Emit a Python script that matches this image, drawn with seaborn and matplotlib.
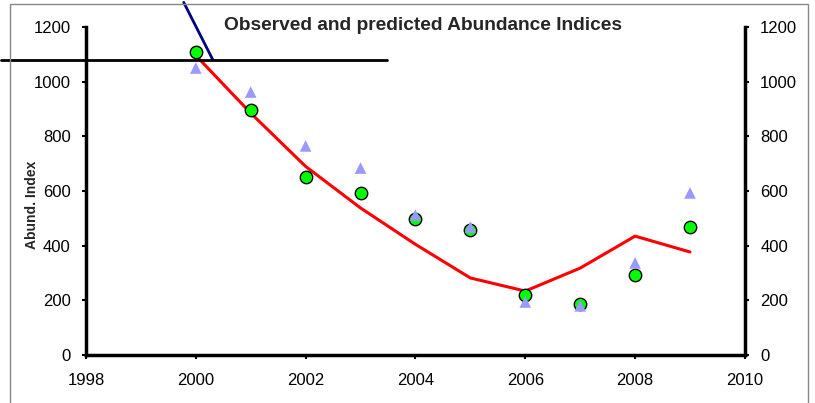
import matplotlib
matplotlib.use('Agg')
import matplotlib.pyplot as plt
import matplotlib.patches as patches
import seaborn as sns
import pandas as pd

# ── DATA ──────────────────────────────────────────────────────────────
years     = [2000, 2001, 2002, 2003, 2004, 2005, 2006, 2007, 2008, 2009]
observed  = [1108, 896, 651, 593, 497, 457, 220, 187, 293, 468]
survey2   = [1050, 962, 765, 684, 512, 468, 194, 180, 337, 593]
predicted = [1096, 885, 690, 538, 405, 282, 234, 318, 435, 377]

# stray lines left over in the original picture
navy_x = [1999.78, 2000.31]
navy_y = [1290, 1080]
black_x = [1996.45, 2003.48]
black_y = [1080, 1080]

df = pd.DataFrame({'year': years, 'obs': observed, 'tri': survey2, 'pred': predicted})

sns.set_style('ticks')
plt.rcParams['font.family'] = ['Liberation Sans', 'DejaVu Sans']

fig = plt.figure(figsize=(8.15, 4.03), dpi=100)
ax = fig.add_axes([0.1055, 0.119, 0.8085, 0.814])

sns.lineplot(data=df, x='year', y='pred', color='red', linewidth=2.2, ax=ax)
sns.scatterplot(data=df, x='year', y='obs', marker='o', s=80, color='#00FF00',
                edgecolor='black', linewidth=1, zorder=3, ax=ax)
sns.scatterplot(data=df, x='year', y='tri', marker='^', s=70, color='#9999FF',
                edgecolor='none', zorder=4, ax=ax)

ax.plot(navy_x, navy_y, color='#000080', linewidth=2, clip_on=False, zorder=5)
ax.plot(black_x, black_y, color='black', linewidth=2, clip_on=False, zorder=5)

ax.set_xlim(1998, 2010)
ax.set_ylim(0, 1200)
ax.set_xticks(range(1998, 2011, 2))
ax.set_yticks(range(0, 1201, 200))
ax.set_xlabel('')
ax.set_ylabel('Abund. Index', fontsize=10, fontweight='bold')
ax.yaxis.set_label_coords(-0.072, 0.457)

for side in ['left', 'bottom', 'right']:
    ax.spines[side].set_visible(True)
    ax.spines[side].set_linewidth(2.5)
    ax.spines[side].set_color('black')
ax.spines['top'].set_visible(False)
ax.tick_params(axis='both', direction='out', length=3, width=1.5, labelsize=12, colors='black')
ax.tick_params(axis='y', right=True, labelright=True, pad=8)
ax.tick_params(axis='x', pad=10)

ax.text(0.512, 1.005, 'Observed and predicted Abundance Indices', transform=ax.transAxes,
        ha='center', va='center', fontsize=13.8, fontweight='bold')

# grey frame round the chart
fig.patches.append(patches.Rectangle((0.0123, -0.1), 0.979, 1.09, transform=fig.transFigure,
                                     fill=False, edgecolor='#888888', linewidth=1))

plt.savefig('out.png', dpi=100)
